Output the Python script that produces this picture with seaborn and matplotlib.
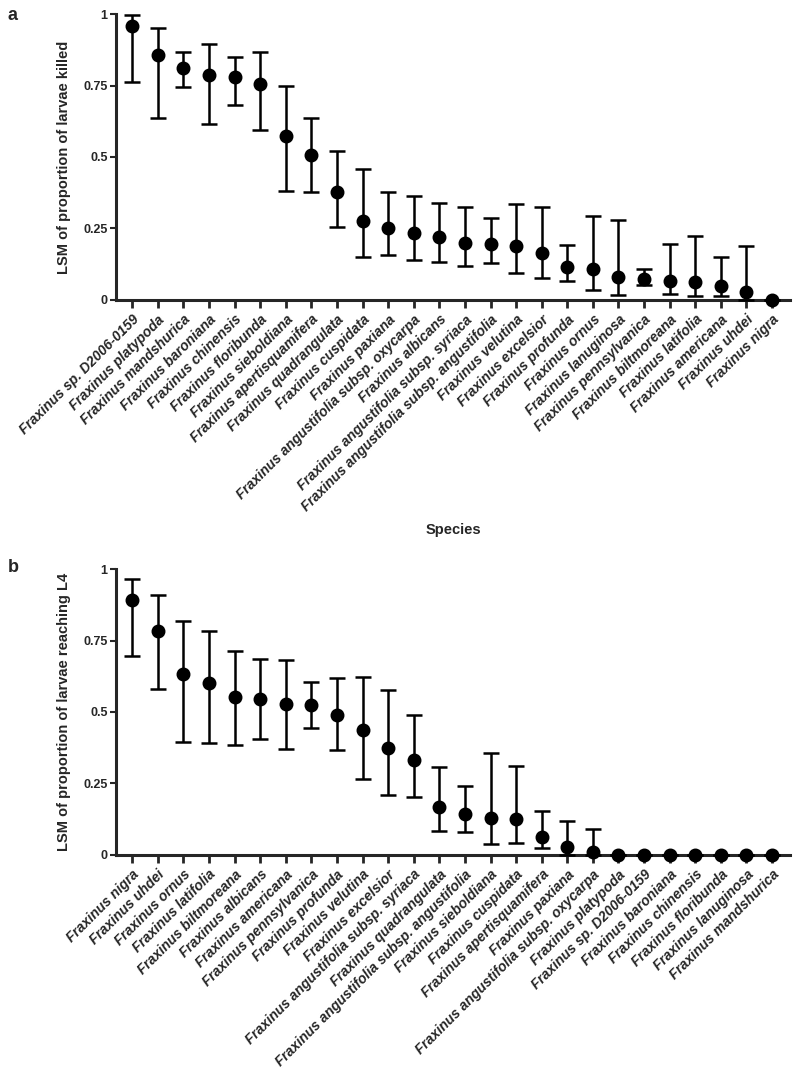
import numpy as np
import pandas as pd
import seaborn as sns
import matplotlib.pyplot as plt

sns.set_style('ticks')
plt.rcParams['font.family'] = ['Liberation Sans', 'DejaVu Sans']
plt.rcParams['font.weight'] = 'bold'

# panel a: larvae killed
species_a = ['Fraxinus sp. D2006-0159', 'Fraxinus platypoda', 'Fraxinus mandshurica',
             'Fraxinus baroniana', 'Fraxinus chinensis', 'Fraxinus floribunda',
             'Fraxinus sieboldiana', 'Fraxinus apertisquamifera', 'Fraxinus quadrangulata',
             'Fraxinus cuspidata', 'Fraxinus paxiana', 'Fraxinus angustifolia subsp. oxycarpa',
             'Fraxinus albicans', 'Fraxinus angustifolia subsp. syriaca',
             'Fraxinus angustifolia subsp. angustifolia', 'Fraxinus velutina',
             'Fraxinus excelsior', 'Fraxinus profunda', 'Fraxinus ornus',
             'Fraxinus lanuginosa', 'Fraxinus pennsylvanica', 'Fraxinus biltmoreana',
             'Fraxinus latifolia', 'Fraxinus americana', 'Fraxinus uhdei', 'Fraxinus nigra']
mean_a = [0.958, 0.857, 0.810, 0.786, 0.779, 0.754, 0.575, 0.506, 0.376, 0.277, 0.252, 0.233,
          0.220, 0.200, 0.196, 0.189, 0.164, 0.117, 0.110, 0.082, 0.075, 0.068, 0.062, 0.050,
          0.029, 0.0]
lower_a = [0.762, 0.636, 0.745, 0.615, 0.683, 0.593, 0.382, 0.376, 0.254, 0.150, 0.156, 0.141,
           0.134, 0.118, 0.129, 0.096, 0.076, 0.068, 0.035, 0.019, 0.052, 0.021, 0.014, 0.014,
           0.0, 0.0]
upper_a = [0.995, 0.952, 0.866, 0.896, 0.851, 0.868, 0.748, 0.637, 0.521, 0.458, 0.379, 0.365,
           0.340, 0.324, 0.286, 0.337, 0.324, 0.191, 0.294, 0.279, 0.107, 0.195, 0.225, 0.150,
           0.187, 0.0]

# panel b: larvae reaching L4
species_b = ['Fraxinus nigra', 'Fraxinus uhdei', 'Fraxinus ornus', 'Fraxinus latifolia',
             'Fraxinus biltmoreana', 'Fraxinus albicans', 'Fraxinus americana',
             'Fraxinus pennsylvanica', 'Fraxinus profunda', 'Fraxinus velutina',
             'Fraxinus excelsior', 'Fraxinus angustifolia subsp. syriaca',
             'Fraxinus quadrangulata', 'Fraxinus angustifolia subsp. angustifolia',
             'Fraxinus sieboldiana', 'Fraxinus cuspidata', 'Fraxinus apertisquamifera',
             'Fraxinus paxiana', 'Fraxinus angustifolia subsp. oxycarpa', 'Fraxinus platypoda',
             'Fraxinus sp. D2006-0159', 'Fraxinus baroniana', 'Fraxinus chinensis',
             'Fraxinus floribunda', 'Fraxinus lanuginosa', 'Fraxinus mandshurica']
mean_b = [0.891, 0.782, 0.632, 0.602, 0.553, 0.547, 0.527, 0.525, 0.490, 0.437, 0.374, 0.332,
          0.169, 0.144, 0.130, 0.125, 0.063, 0.029, 0.012, 0.0, 0.0, 0.0, 0.0, 0.0, 0.0, 0.0]
lower_b = [0.696, 0.580, 0.396, 0.390, 0.385, 0.404, 0.370, 0.445, 0.367, 0.265, 0.210, 0.203,
           0.085, 0.081, 0.038, 0.042, 0.023, 0.0, 0.0, 0.0, 0.0, 0.0, 0.0, 0.0, 0.0, 0.0]
upper_b = [0.966, 0.908, 0.817, 0.782, 0.714, 0.687, 0.682, 0.604, 0.619, 0.624, 0.576, 0.491,
           0.306, 0.241, 0.355, 0.311, 0.155, 0.118, 0.092, 0.0, 0.0, 0.0, 0.0, 0.0, 0.0, 0.0]

yticks = [0, 0.25, 0.5, 0.75, 1]
yticklabels = ['0', '0.25', '0.5', '0.75', '1']


def panel(ax, species, mean, lower, upper, ylabel):
    df = pd.DataFrame({'species': species, 'mean': mean})
    mean = np.array(mean)
    err = [mean - np.array(lower), np.array(upper) - mean]
    ax.errorbar(np.arange(len(species)), mean, yerr=err, fmt='none', ecolor='black',
                elinewidth=1.8, capsize=6, capthick=1.8, zorder=2, clip_on=False)
    sns.pointplot(data=df, x='species', y='mean', order=species, color='black',
                  linestyle='none', errorbar=None, markersize=8, ax=ax)
    for ln in ax.lines:
        ln.set_clip_on(False)
        ln.set_zorder(4)
    ax.set_xlim(-0.63, len(species) - 0.3)
    ax.set_ylim(0, 1)
    ax.set_yticks(yticks)
    ax.set_yticklabels(yticklabels, fontsize=9, fontweight='bold')
    ax.set_xticks(np.arange(len(species)))
    ax.set_xticklabels(species, rotation=45, ha='right', rotation_mode='anchor',
                       fontsize=10, fontweight='bold', fontstyle='italic')
    ax.set_ylabel(ylabel, fontsize=10.5, fontweight='bold', labelpad=9)
    ax.set_xlabel('')
    sns.despine(ax=ax)
    for s in ['left', 'bottom']:
        ax.spines[s].set_linewidth(2.2)
        ax.spines[s].set_zorder(3)
    ax.tick_params(axis='x', length=6, width=2, pad=3)
    ax.tick_params(axis='y', length=4, width=1.5, pad=2)


fig = plt.figure(figsize=(8, 10.88), dpi=100)
ax1 = fig.add_axes([0.145, 0.7243, 0.8425, 0.2628])
ax2 = fig.add_axes([0.145, 0.2142, 0.8425, 0.2628])

panel(ax1, species_a, mean_a, lower_a, upper_a, 'LSM of proportion of larvae killed')
panel(ax2, species_b, mean_b, lower_b, upper_b, 'LSM of proportion of larvae reaching L4')

fig.text(0.5663, 1 - 530 / 1088, 'Species', ha='center', va='center',
         fontsize=10.5, fontweight='bold')
fig.text(0.01, 1 - 15 / 1088, 'a', ha='left', va='center', fontsize=13, fontweight='bold')
fig.text(0.01, 1 - 567 / 1088, 'b', ha='left', va='center', fontsize=13, fontweight='bold')

fig.savefig('out.png', dpi=100)
